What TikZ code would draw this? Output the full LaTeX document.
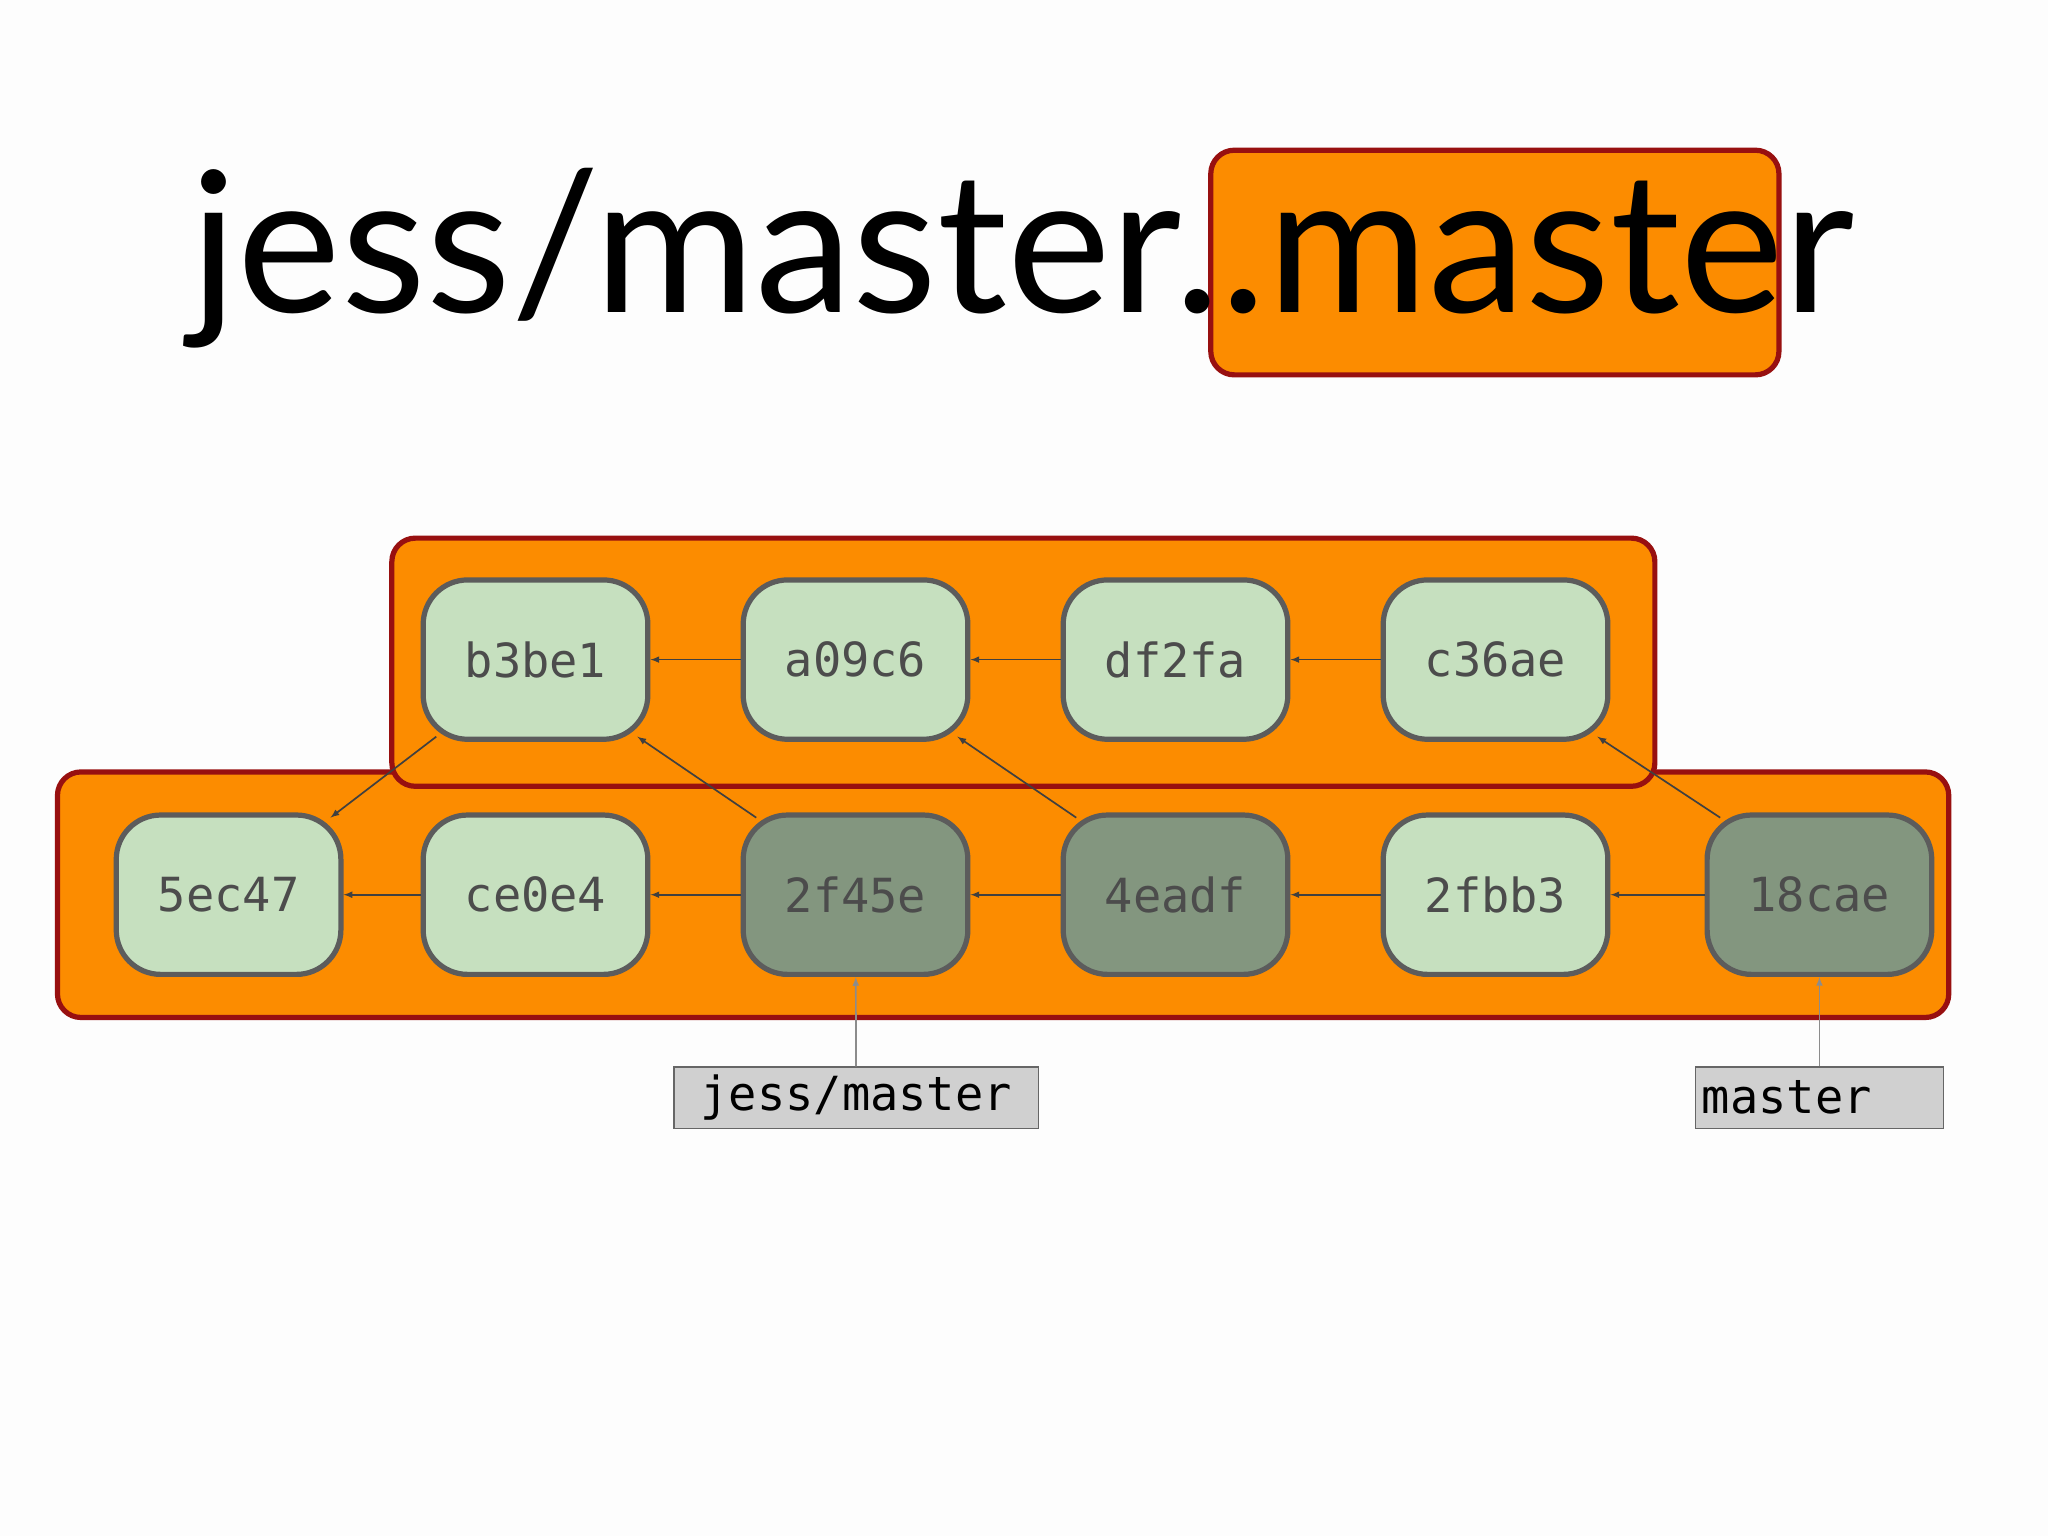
\documentclass[tikz,border=0pt]{standalone}
\usepackage{fontspec}
\setmainfont{Lato}
\newfontfamily\hashfont{DejaVu Sans Mono}
\definecolor{bg}{HTML}{FDFDFD}
\definecolor{orng}{HTML}{FC8C00}
\definecolor{dred}{HTML}{981010}
\definecolor{lgreen}{HTML}{C6E0BF}
\definecolor{dgreen}{HTML}{83967F}
\definecolor{edge}{HTML}{5C5C5C}
\definecolor{lbl}{HTML}{D0D0D0}
\begin{document}
\begin{tikzpicture}[x=1pt,y=-1pt,>=latex,
  commit/.style={draw=edge,line width=4pt,rounded corners=34pt,minimum width=172pt,minimum height=122pt,
    font=\hashfont\fontsize{36}{40}\selectfont,text=black!70,fill=lgreen},
  mine/.style={commit,fill=dgreen},
  group/.style={draw=dred,line width=4pt,fill=orng,rounded corners=18pt},
  ref/.style={draw=black!60,line width=1.2pt,fill=lbl,inner sep=0pt,minimum height=47pt,
    font=\hashfont\fontsize{36}{40}\selectfont,text=black},
  link/.style={->,draw=black!75,line width=1.3pt},
  point/.style={->,draw=black!45,line width=1.3pt}]
\useasboundingbox[fill=bg] (0,0) rectangle (1568,1176);
% title
\draw[group] (927,115) rectangle (1362,287);
\node (title) at (783,198) [font=\fontsize{150}{160}\selectfont] {jess/master..master};
% groups
\draw[group] (44,591) rectangle (1492,779);
\draw[group] (300,412) rectangle (1267,602);
% commits
\node[commit] (b3be1) at (410,505) {b3be1};
\node[commit] (a09c6) at (655,505) {a09c6};
\node[commit] (df2fa) at (900,505) {df2fa};
\node[commit] (c36ae) at (1145,505) {c36ae};
\node[commit] (5ec47) at (175,685) {5ec47};
\node[commit] (ce0e4) at (410,685) {ce0e4};
\node[mine] (2f45e) at (655,685) {2f45e};
\node[mine] (4eadf) at (900,685) {4eadf};
\node[commit] (2fbb3) at (1145,685) {2fbb3};
\node[mine] (18cae) at (1393,685) {18cae};
% refs
\node[ref,minimum width=279pt] (jm) at (655.5,840.5) {jess/master};
\node[ref,minimum width=190pt,text width=180pt] (ma) at (1393,840.5) {master};
% links
\foreach \a/\b in {a09c6/b3be1,df2fa/a09c6,c36ae/df2fa,ce0e4/5ec47,2f45e/ce0e4,4eadf/2f45e,2fbb3/4eadf,18cae/2fbb3}
  \draw[link] (\a) -- (\b);
\draw[link] ([shift={(12,-4)}]b3be1.south west) -- ([shift={(-10,4)}]5ec47.north east);
\draw[link] ([shift={(12,4)}]2f45e.north west) -- ([shift={(-10,-4)}]b3be1.south east);
\draw[link] ([shift={(12,4)}]4eadf.north west) -- ([shift={(-10,-4)}]a09c6.south east);
\draw[link] ([shift={(12,4)}]18cae.north west) -- ([shift={(-10,-4)}]c36ae.south east);
\draw[point] (jm) -- (2f45e);
\draw[point] (ma) -- (18cae);
\end{tikzpicture}
\end{document}
